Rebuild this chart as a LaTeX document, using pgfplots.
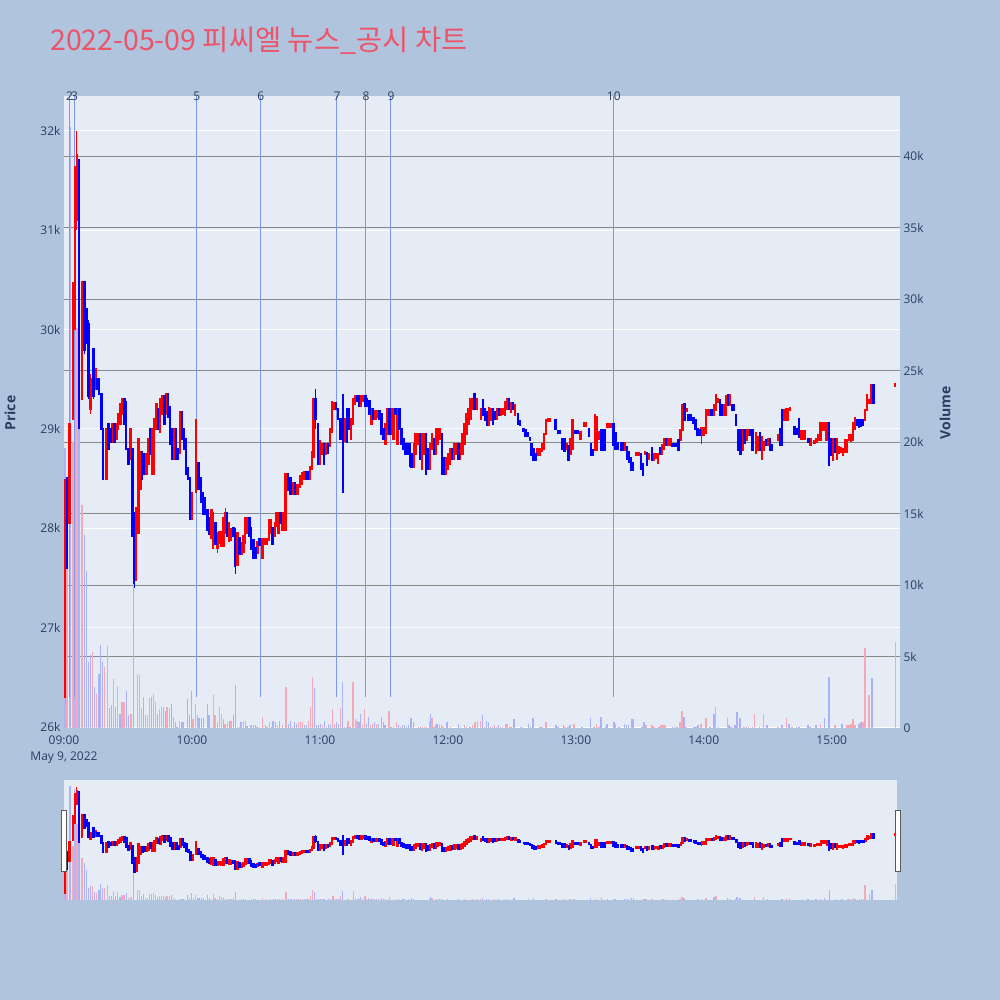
\documentclass[border=0pt]{standalone}
\usepackage{fontspec}
\setmainfont{Open Sans}
\newfontfamily\kr{Noto Sans CJK KR}
\usepackage{pgfplots}
\usepackage{pgfplotstable}
\pgfplotsset{compat=1.18}
\definecolor{pagebg}{HTML}{B0C4DE}
\definecolor{plotbg}{HTML}{E5ECF6}
\definecolor{gridgray}{RGB}{136,136,136}
\definecolor{tickc}{RGB}{42,63,95}
\definecolor{titlec}{RGB}{236,84,106}
\definecolor{newsc}{RGB}{125,150,240}
\definecolor{volblue}{RGB}{170,178,248}
\definecolor{volred}{RGB}{244,170,182}
\definecolor{cred}{RGB}{255,0,0}
\definecolor{cblue}{RGB}{0,0,255}

\pgfplotstableread{
t o c h l
0.5 26.3 28.45 28.5 26.3
2.5 28.05 29.05 29.05 28.05
4.2 29.4 30.35 30.48 29.09
5.1 30.3 31.6 31.65 30.0
6.0 31.1 31.75 32.0 31.0
8.5 29.3 30.48 30.48 29.3
12.4 29.2 29.5 29.55 29.15
14.7 29.4 29.6 29.6 29.4
19.84 28.5 29.0 29.0 28.5
22.65 28.87 29.05 29.05 28.87
24.53 28.9 29.05 29.05 28.9
25.46 29.0 29.15 29.15 29.0
26.4 29.05 29.25 29.25 29.05
27.34 29.15 29.3 29.3 29.15
31.09 28.7 29.0 29.0 28.7
33.9 27.48 28.2 28.2 27.48
34.84 27.95 28.9 28.9 27.95
35.78 28.4 28.77 28.77 28.4
38.59 28.55 28.75 28.75 28.55
39.53 28.65 28.9 28.9 28.65
41.4 28.55 29.0 29.0 28.55
42.34 28.55 29.1 29.1 28.55
43.28 29.0 29.25 29.25 29.0
45.15 28.97 29.3 29.3 28.97
46.09 29.15 29.33 29.33 29.15
47.96 29.15 29.35 29.35 29.15
51.71 28.7 29.0 29.0 28.7
54.53 28.76 29.17 29.17 28.76
60.15 28.1 28.35 28.35 28.1
61.9 28.4 28.65 29.1 28.35
69.1 27.9 28.18 28.18 27.9
70.0 27.8 28.15 28.15 27.8
71.9 27.8 27.95 27.95 27.75
72.8 27.85 27.96 27.96 27.85
73.7 27.82 27.96 27.96 27.82
74.7 27.82 28.1 28.1 27.82
75.6 27.95 28.15 28.2 27.95
77.5 27.87 28.05 28.05 27.87
78.4 27.88 27.99 27.99 27.88
81.3 27.63 27.95 27.95 27.63
83.2 27.74 27.85 27.85 27.74
84.1 27.76 27.92 27.92 27.76
85.0 27.85 28.1 28.1 27.85
86.0 27.95 28.1 28.1 27.95
90.7 27.75 27.86 27.86 27.75
93.1 27.7 27.89 27.89 27.7
94.1 27.84 27.89 27.89 27.84
95.0 27.84 27.89 27.89 27.84
96.0 27.88 28.08 28.08 27.88
96.9 27.95 28.08 28.08 27.95
98.8 27.92 28.05 28.05 27.92
99.7 28.02 28.15 28.15 28.02
100.6 27.95 28.15 28.15 27.95
102.5 27.98 28.15 28.15 27.98
103.8 27.98 28.54 28.54 27.98
107.2 28.35 28.45 28.45 28.35
109.5 28.35 28.43 28.43 28.35
110.6 28.42 28.52 28.52 28.42
111.5 28.45 28.55 28.55 28.45
112.5 28.5 28.56 28.56 28.5
115.3 28.5 28.61 28.61 28.5
116.2 28.6 28.77 28.77 28.6
117.0 28.72 29.3 29.3 28.72
120.0 28.65 28.88 28.88 28.65
121.0 28.75 28.85 28.85 28.75
122.9 28.75 28.85 28.85 28.75
124.7 28.83 29.0 29.0 28.83
125.7 28.97 29.27 29.27 28.97
126.6 29.2 29.26 29.26 29.2
131.8 28.88 29.1 29.1 28.88
134.6 28.9 29.1 29.1 28.9
135.6 29.05 29.3 29.3 29.05
136.5 29.25 29.33 29.33 29.25
139.4 29.23 29.33 29.33 29.23
140.3 29.28 29.33 29.33 29.28
144.1 29.05 29.2 29.2 29.05
146.0 29.1 29.18 29.18 29.1
146.9 29.12 29.18 29.18 29.12
150.7 28.85 29.05 29.05 28.85
151.7 28.95 29.2 29.2 28.95
153.6 28.95 29.2 29.2 28.95
154.5 28.9 29.2 29.2 28.9
156.4 28.85 29.2 29.2 28.85
164.0 28.62 28.85 28.85 28.62
164.9 28.75 28.95 28.95 28.75
165.9 28.85 28.95 28.95 28.85
167.8 28.6 28.95 28.95 28.6
168.7 28.75 28.95 28.95 28.75
171.6 28.6 28.85 28.85 28.6
172.5 28.8 28.95 28.95 28.8
174.4 28.75 29.0 29.0 28.75
175.4 28.85 29.0 29.0 28.85
176.3 28.9 29.0 29.0 28.9
179.2 28.55 28.7 28.7 28.55
180.1 28.6 28.75 28.75 28.6
181.1 28.65 28.8 28.8 28.65
183.0 28.7 28.85 28.85 28.7
183.9 28.75 28.85 28.85 28.75
185.8 28.7 28.85 28.85 28.7
186.8 28.75 28.95 28.95 28.75
187.7 28.85 29.05 29.05 28.85
188.7 28.95 29.15 29.15 28.95
189.6 29.05 29.2 29.2 29.05
190.6 29.1 29.3 29.3 29.1
191.5 29.2 29.3 29.3 29.2
193.4 29.2 29.3 29.3 29.2
195.5 29.1 29.2 29.2 29.1
199.3 29.04 29.21 29.21 29.04
200.2 29.09 29.2 29.2 29.09
203.0 29.1 29.2 29.2 29.1
204.9 29.14 29.2 29.2 29.14
205.9 29.15 29.2 29.2 29.15
206.8 29.14 29.27 29.27 29.14
207.8 29.2 29.3 29.3 29.2
209.7 29.17 29.26 29.26 29.17
211.6 29.14 29.24 29.24 29.14
222.1 28.74 28.8 28.8 28.74
223.1 28.74 28.8 28.8 28.74
224.0 28.78 28.85 28.85 28.78
225.0 28.8 28.95 28.95 28.8
225.9 28.95 29.09 29.09 28.95
226.9 29.08 29.1 29.1 29.08
227.8 29.08 29.1 29.1 29.08
235.6 28.8 28.85 28.85 28.8
237.5 28.75 28.9 28.9 28.75
238.4 28.8 29.09 29.09 28.8
242.1 28.9 28.97 28.97 28.9
243.7 29.03 29.06 29.06 29.03
244.6 29.03 29.06 29.06 29.03
248.9 28.79 29.14 29.14 28.79
249.8 28.79 29.12 29.12 28.79
250.8 28.9 28.97 28.97 28.9
254.6 29.02 29.05 29.05 29.02
255.5 29.02 29.05 29.05 29.02
256.5 29.02 29.05 29.05 29.02
263.0 28.79 28.86 28.86 28.79
268.4 28.74 28.76 28.76 28.74
269.5 28.74 28.76 28.76 28.74
272.4 28.75 28.77 28.77 28.75
274.3 28.7 28.75 28.75 28.7
276.7 28.69 28.75 28.75 28.69
277.6 28.71 28.75 28.75 28.71
278.6 28.66 28.75 28.75 28.66
280.5 28.75 28.84 28.84 28.75
281.4 28.8 28.9 28.9 28.8
283.4 28.84 28.9 28.9 28.84
284.3 28.84 28.9 28.9 28.84
289.1 28.89 28.99 28.99 28.89
290.0 28.99 29.24 29.24 28.99
291.9 29.18 29.2 29.2 29.18
299.0 28.95 29.01 29.01 28.85
299.9 28.94 29.01 29.01 28.94
300.9 28.96 29.19 29.19 28.96
301.8 29.14 29.19 29.19 29.14
302.8 29.14 29.19 29.19 29.14
304.7 29.14 29.24 29.24 29.14
305.6 29.19 29.34 29.34 29.19
306.6 29.27 29.3 29.3 29.27
309.4 29.14 29.24 29.24 29.14
310.4 29.14 29.33 29.33 29.14
312.3 29.24 29.34 29.34 29.24
318.1 28.79 28.99 28.99 28.79
320.0 28.89 28.99 28.99 28.89
321.0 28.94 28.99 28.99 28.94
324.4 28.76 28.96 28.96 28.76
325.3 28.79 28.92 28.92 28.79
327.2 28.7 28.92 28.92 28.7
328.2 28.79 28.87 28.87 28.79
330.1 28.84 28.9 28.9 28.84
334.7 28.89 28.94 28.94 28.89
337.6 29.09 29.19 29.19 29.09
338.5 29.09 29.2 29.2 29.09
339.5 29.09 29.2 29.2 29.09
340.5 29.19 29.21 29.21 29.19
345.6 28.9 28.98 28.98 28.9
346.6 28.9 28.98 28.98 28.9
347.5 28.9 28.98 28.98 28.9
350.0 28.84 28.9 28.9 28.84
351.9 28.86 28.88 28.88 28.86
352.9 28.87 28.9 28.9 28.87
353.8 28.89 28.94 28.94 28.89
354.8 28.89 29.06 29.06 28.89
355.7 28.99 29.06 29.06 28.99
356.7 28.99 29.06 29.06 28.99
357.6 28.89 29.06 29.06 28.89
360.5 28.69 28.9 28.9 28.69
362.4 28.7 28.9 28.9 28.7
363.3 28.76 28.82 28.82 28.76
364.3 28.77 28.81 28.81 28.77
365.2 28.74 28.8 28.8 28.74
366.2 28.77 28.89 28.89 28.77
367.1 28.77 28.89 28.89 28.77
368.1 28.89 28.94 28.94 28.89
369.0 28.88 28.94 28.94 28.88
370.0 28.89 29.06 29.06 28.89
370.9 29.0 29.11 29.11 29.0
375.7 29.09 29.19 29.19 29.09
376.6 29.19 29.34 29.34 29.19
377.6 29.26 29.29 29.29 29.26
378.5 29.26 29.44 29.44 29.26
389.6 29.43 29.45 29.45 29.43
}\upcandles

\pgfplotstableread{
t o c h l
1.4 28.5 27.6 28.5 27.6
7.0 31.7 29.6 31.7 29.0
9.6 30.48 29.8 30.48 29.75
10.5 30.2 29.9 30.2 29.85
11.4 30.05 29.33 30.1 29.3
13.75 29.8 29.33 29.8 29.3
15.6 29.5 29.4 29.5 29.4
16.5 29.5 29.35 29.5 29.35
17.5 29.35 29.0 29.35 29.0
18.4 29.0 28.5 29.0 28.5
20.78 29.05 28.8 29.05 28.8
21.71 29.0 28.87 29.0 28.87
23.59 29.05 28.87 29.05 28.87
28.28 29.3 29.05 29.3 29.05
29.21 29.27 28.8 29.27 28.8
30.15 28.8 28.65 28.8 28.65
32.03 28.8 27.92 28.8 27.92
32.96 28.15 27.45 28.15 27.4
36.71 28.77 28.5 28.77 28.5
37.65 28.75 28.55 28.75 28.55
40.46 29.0 28.75 29.0 28.75
44.21 29.2 29.0 29.2 29.0
47.03 29.33 29.05 29.33 29.05
48.9 29.35 29.12 29.35 29.12
49.84 29.22 28.85 29.22 28.85
50.78 29.0 28.7 29.0 28.7
52.65 29.0 28.7 29.0 28.7
53.59 28.8 28.7 28.8 28.7
55.46 29.17 28.9 29.17 28.9
56.4 29.0 28.8 29.0 28.8
57.34 28.9 28.55 28.9 28.55
58.28 28.6 28.5 28.6 28.5
59.21 28.5 28.1 28.5 28.1
63.1 28.65 28.4 28.65 28.4
64.1 28.5 28.27 28.5 28.27
65.3 28.35 28.15 28.35 28.15
66.2 28.3 28.15 28.3 28.15
67.2 28.18 27.98 28.18 27.98
68.1 28.1 27.94 28.1 27.94
71.0 28.05 27.84 28.05 27.84
76.5 28.15 27.92 28.15 27.92
79.4 28.0 27.92 28.0 27.92
80.3 27.99 27.62 27.99 27.54
82.2 27.9 27.74 27.9 27.74
86.9 28.1 27.92 28.1 27.92
87.8 28.0 27.79 28.0 27.79
88.8 27.88 27.7 27.88 27.7
89.7 27.8 27.7 27.8 27.7
91.6 27.89 27.83 27.89 27.83
97.8 28.0 27.84 28.0 27.84
101.6 28.15 28.05 28.15 28.05
105.0 28.54 28.39 28.54 28.39
106.2 28.5 28.35 28.5 28.35
108.4 28.45 28.35 28.45 28.35
113.4 28.56 28.5 28.56 28.5
114.3 28.56 28.5 28.56 28.5
117.9 29.3 29.1 29.4 29.0
119.1 29.05 28.65 29.05 28.65
121.9 28.85 28.65 28.85 28.65
123.8 28.85 28.76 28.85 28.76
127.6 29.26 29.2 29.26 29.2
128.5 29.2 29.1 29.2 29.1
129.6 29.1 28.9 29.1 28.9
130.8 29.33 28.89 29.35 28.35
132.7 29.2 28.87 29.2 28.87
133.7 29.2 29.0 29.2 29.0
137.5 29.33 29.28 29.33 29.28
138.4 29.33 29.23 29.33 29.23
141.3 29.33 29.23 29.33 29.23
142.2 29.3 29.23 29.3 29.23
143.2 29.28 29.15 29.28 29.15
145.0 29.2 29.1 29.2 29.1
147.9 29.18 29.1 29.18 29.1
148.8 29.15 28.95 29.15 28.95
149.8 29.0 28.9 29.0 28.9
152.6 29.2 28.95 29.2 28.95
155.4 29.2 29.15 29.2 29.15
157.3 29.2 29.0 29.2 29.0
158.3 29.0 28.85 29.0 28.85
159.2 28.9 28.8 28.9 28.8
160.2 28.85 28.75 28.85 28.75
161.1 28.85 28.75 28.85 28.75
162.1 28.85 28.63 28.85 28.63
163.0 28.75 28.62 28.75 28.62
166.8 28.95 28.7 28.95 28.7
169.7 28.95 28.55 28.95 28.55
170.6 28.8 28.6 28.8 28.6
173.5 28.9 28.75 28.9 28.75
177.3 28.95 28.55 28.95 28.55
178.2 28.7 28.55 28.7 28.55
182.0 28.8 28.7 28.8 28.7
184.9 28.85 28.7 28.85 28.7
192.5 29.35 29.2 29.35 29.2
196.4 29.29 29.14 29.3 29.14
197.4 29.2 29.09 29.2 29.09
198.3 29.17 29.04 29.17 29.04
201.2 29.2 29.05 29.2 29.05
202.1 29.17 29.1 29.17 29.1
204.0 29.2 29.14 29.2 29.14
208.7 29.3 29.2 29.3 29.2
210.6 29.26 29.2 29.26 29.2
213.0 29.15 29.05 29.15 29.05
213.9 29.08 29.04 29.08 29.04
215.5 29.0 28.98 29.0 28.98
216.4 28.99 28.93 28.99 28.93
217.4 28.96 28.93 28.96 28.93
218.4 28.91 28.89 28.91 28.89
219.3 28.85 28.74 28.85 28.74
220.2 28.8 28.69 28.8 28.69
221.2 28.75 28.69 28.75 28.69
230.5 29.09 29.0 29.09 29.0
231.6 28.98 28.96 28.98 28.96
232.5 28.98 28.96 28.98 28.96
233.6 28.9 28.8 28.9 28.8
234.7 28.9 28.78 28.9 28.78
236.6 28.83 28.69 28.83 28.69
239.8 28.98 28.96 28.98 28.96
240.7 28.98 28.96 28.98 28.96
246.1 29.0 28.93 29.0 28.93
247.0 28.85 28.74 28.85 28.74
248.0 28.79 28.74 28.79 28.74
251.7 28.99 28.79 28.99 28.79
252.7 28.99 28.79 28.99 28.79
253.6 28.99 28.79 28.99 28.79
257.6 29.05 28.84 29.05 28.84
258.6 28.96 28.8 28.96 28.8
259.6 28.86 28.8 28.86 28.8
261.1 28.86 28.79 28.86 28.79
262.0 28.86 28.79 28.86 28.79
263.9 28.82 28.7 28.82 28.7
264.9 28.77 28.67 28.77 28.67
265.8 28.7 28.59 28.7 28.59
266.8 28.65 28.59 28.65 28.59
270.5 28.75 28.6 28.75 28.6
271.4 28.64 28.54 28.64 28.54
273.3 28.76 28.64 28.76 28.64
275.8 28.81 28.69 28.81 28.69
279.6 28.81 28.75 28.81 28.75
282.4 28.9 28.84 28.9 28.84
285.3 28.85 28.83 28.85 28.83
286.2 28.85 28.83 28.85 28.83
287.2 28.85 28.83 28.85 28.83
288.1 28.89 28.79 28.89 28.79
291.0 29.25 29.09 29.25 29.09
292.9 29.14 29.09 29.14 29.09
293.8 29.14 29.09 29.14 29.09
295.2 29.11 29.06 29.11 29.06
296.1 29.09 29.0 29.09 29.0
297.1 29.0 28.94 29.0 28.94
298.0 28.99 28.94 28.99 28.94
303.7 29.19 29.14 29.19 29.14
307.5 29.29 29.14 29.29 29.14
308.5 29.24 29.14 29.24 29.14
311.3 29.34 29.24 29.34 29.24
313.2 29.24 29.19 29.24 29.19
314.2 29.24 29.19 29.24 29.19
315.2 29.14 29.04 29.14 29.04
316.1 28.99 28.79 28.99 28.79
317.2 28.99 28.75 28.99 28.75
319.1 28.99 28.86 28.99 28.86
321.9 28.99 28.94 28.99 28.94
322.9 28.99 28.79 28.99 28.79
326.3 28.96 28.79 28.96 28.79
329.1 28.89 28.84 28.89 28.84
331.0 28.9 28.79 28.9 28.79
332.0 28.84 28.79 28.84 28.79
335.6 29.0 28.84 29.0 28.84
336.6 29.19 28.84 29.19 28.84
342.5 29.02 28.95 29.02 28.95
343.4 29.0 28.95 29.0 28.95
344.7 29.1 28.92 29.1 28.92
349.1 28.9 28.87 28.9 28.87
358.6 29.06 28.64 29.06 28.64
359.5 28.9 28.74 28.9 28.74
361.4 28.9 28.77 28.9 28.77
371.9 29.09 29.04 29.09 29.04
372.8 29.09 29.02 29.09 29.02
373.8 29.09 29.03 29.09 29.03
374.7 29.09 29.04 29.09 29.04
379.5 29.44 29.26 29.44 29.26
}\downcandles

\pgfplotstableread{
t v
1.4 12.2
2.5 10
4.2 20
5.1 28
6.0 28
8.5 15.6
13.4 5.3
15.3 2.4
19.1 4.3
20.3 5.7
23.1 3.4
25.0 2.9
27.2 1.8
28.1 1.8
31.3 1.0
34.4 3.8
35.3 3.7
36.3 1.4
38.1 0.9
39.1 0.9
40.0 2.1
41.9 2.4
42.8 1.8
44.7 1.3
45.6 1.5
48.4 1.5
49.4 1.4
51.3 0.8
54.1 0.5
60.6 0.6
61.6 1.7
69.1 0.1
70.0 2.3
70.9 0.9
71.9 0.4
72.8 1.5
73.8 1.0
75.6 0.3
76.6 0.4
78.4 0.5
81.3 0.1
82.2 0.1
84.1 0.5
85.0 0.5
90.6 0.1
91.6 0.1
93.1 0.8
95.3 0.1
96.3 0.4
100.0 0.2
102.5 0.2
104.1 2.9
107.2 0.1
110.0 0.4
110.9 0.4
111.9 0.4
114.7 0.5
115.6 1.5
116.6 3.6
121.3 0.2
126.0 1.3
126.9 0.3
129.7 1.4
132.5 0.1
133.1 0.5
135.6 3.2
136.6 0.6
137.5 0.5
140.0 0.2
141.0 1.3
143.8 0.2
144.7 0.3
146.6 0.3
152.5 1.2
153.4 0.1
155.9 0.4
157.8 0.1
166.3 0.1
167.2 0.1
168.1 0.1
169.1 0.1
170.0 0.1
171.3 0.5
172.5 0.7
173.4 0.1
174.1 0.2
177.8 0.1
181.3 0.1
187.8 0.2
190.3 0.1
191.6 0.2
192.8 0.4
193.8 0.5
195.3 0.5
197.2 0.1
200.0 0.1
201.9 0.2
202.8 0.1
205.6 0.1
206.9 0.3
207.8 0.3
209.7 0.1
223.1 0.1
225.9 0.4
235.0 0.1
236.3 0.1
239.1 0.3
248.4 0.1
249.7 0.3
250.9 0.1
253.8 0.1
258.6 0.3
272.8 0.2
275.6 0.2
276.6 0.1
280.0 0.2
280.9 0.2
281.9 0.2
288.8 0.4
289.7 1.2
291.6 0.1
298.8 0.3
301.0 0.7
305.6 1.5
311.0 0.7
318.8 0.1
321.0 0.1
323.8 1.0
328.0 1.0
334.7 0.1
338.8 0.7
341.3 0.1
354.7 0.3
361.6 0.2
367.2 0.2
368.1 0.2
369.1 0.3
370.0 0.6
370.9 0.2
374.7 0.4
375.6 5.6
377.5 2.3
389.8 6.0
}\volup

\pgfplotstableread{
t v
0.5 19.6
2.9 42
5.0 41
7.0 21
9.6 13.5
10.5 11
11.6 4.6
12.5 5.1
14.4 2.9
16.3 3.8
17.2 5.8
18.1 4.6
21.3 1.4
22.2 1.6
24.1 1.5
26.3 1.0
29.4 2.6
30.3 0.9
32.5 10.3
37.2 2.2
41.0 2.2
43.8 1.0
46.6 1.5
47.5 1.2
50.3 1.7
52.2 0.4
53.1 0.1
55.0 0.4
55.9 0.4
57.8 2.0
58.8 0.9
59.7 2.6
62.5 0.9
63.4 0.7
64.4 0.7
65.3 0.7
67.2 1.7
68.1 0.9
74.7 0.6
77.5 0.5
79.4 0.9
80.3 3.0
83.1 0.4
85.9 0.15
87.8 0.2
88.8 0.2
89.7 0.2
94.4 0.2
97.2 0.1
98.1 0.5
99.1 0.4
101.0 0.5
105.3 0.3
106.3 0.5
108.1 0.4
109.1 0.3
112.8 0.2
113.8 0.2
117.5 2.8
118.4 0.2
119.4 0.2
120.3 0.3
122.2 0.5
123.1 0.1
124.1 0.3
125.0 0.2
127.8 0.4
128.8 0.3
130.6 3.2
131.6 0.1
134.1 0.1
138.4 0.4
139.1 1.0
141.9 0.3
142.8 0.8
145.6 0.4
147.5 0.3
148.8 0.8
149.7 0.4
150.6 0.2
154.4 0.1
156.9 0.2
158.8 0.2
159.7 0.2
160.6 0.1
161.6 0.2
162.8 0.7
163.8 0.4
171.9 1.0
175.0 0.3
176.0 0.2
176.9 0.2
179.7 0.4
185.0 0.3
185.9 0.1
188.8 0.1
196.25 0.9
198.1 0.5
199.1 0.4
201.0 0.1
203.8 0.2
204.7 0.1
208.8 0.1
210.9 0.6
214.1 0.1
215.0 0.1
217.8 0.3
218.8 0.1
220.0 0.7
224.1 0.1
230.6 0.2
231.6 0.1
234.1 0.2
237.2 0.2
242.8 0.1
246.9 0.7
251.9 0.8
254.7 0.3
257.8 0.4
260.3 0.1
262.8 0.3
263.8 0.2
264.7 0.2
266.0 0.6
266.9 0.6
271.0 0.1
271.9 0.4
279.1 0.1
285.3 0.1
286.3 0.1
287.5 0.1
290.6 0.8
295.3 0.1
296.3 0.1
297.2 0.2
302.8 0.1
304.7 1.0
306.9 0.1
311.9 0.2
312.8 0.1
314.7 0.2
315.6 1.1
316.9 0.7
320.0 0.1
322.8 0.1
326.0 0.1
329.7 0.2
336.6 0.2
340.0 0.3
343.4 0.1
344.7 0.1
348.8 0.2
349.7 0.1
352.5 0.2
356.6 0.7
358.8 3.6
364.7 0.3
372.8 0.3
373.8 0.4
378.8 3.5
}\voldown

\pgfplotstableread{
t y
2.6 26.3
4.9 26.3
62.3 26.3
92.3 26.3
128.0 26.3
141.6 26.3
153.3 26.3
257.8 26.3
}\news

\begin{document}
\begin{tikzpicture}
\useasboundingbox (0,0) rectangle (1000bp,1000bp);
\fill[pagebg] (0,0) rectangle (1000bp,1000bp);

\node[anchor=base west, text=titlec, font=\kr\fontsize{28.5bp}{31bp}\selectfont, inner sep=0pt] at (50bp,949bp) {2022-05-09 피씨엘 뉴스\_공시 차트};

% ---------- volume (right) axis: background, grey grid, right ticks
\begin{axis}[
  at={(64bp,272bp)}, anchor=south west, scale only axis,
  width=836bp, height=632bp,
  xmin=0, xmax=392, ymin=0, ymax=44.2,
  axis x line=none, axis y line*=right,
  axis line style={draw=none}, major tick length=0pt,
  axis background/.style={fill=plotbg},
  ytick={0,5,10,15,20,25,30,35,40},
  yticklabels={0,5k,10k,15k,20k,25k,30k,35k,40k},
  ymajorgrids, grid style={gridgray, line width=1bp},
  yticklabel style={font=\fontsize{12bp}{14bp}\selectfont, text=tickc, anchor=west, xshift=0bp},
]
\addplot[draw=none] coordinates {(0,0) (392,44.2)};
\end{axis}

% ---------- price (left) axis with all data
\begin{axis}[
  at={(64bp,272bp)}, anchor=south west, scale only axis,
  width=836bp, height=632bp,
  xmin=0, xmax=392, ymin=25.99, ymax=32.35,
  axis x line*=bottom, axis y line*=left,
  axis line style={draw=none}, major tick length=0pt,
  xtick={0,60,120,180,240,300,360},
  xticklabels={{09:00\\May 9, 2022},10:00,11:00,12:00,13:00,14:00,15:00},
  xticklabel style={font=\fontsize{12bp}{16bp}\selectfont, text=tickc, align=center, anchor=north, yshift=-4bp},
  ytick={26,27,28,29,30,31,32},
  yticklabels={26k,27k,28k,29k,30k,31k,32k},
  yticklabel style={font=\fontsize{12bp}{14bp}\selectfont, text=tickc, anchor=east},
  ymajorgrids, grid style={white, line width=1bp},
  clip=true,
]
% volume bars (scaled into price units)
\addplot[volred, line width=1.5bp, no markers, quiver={u=0, v=\thisrow{v}*0.14389}] table[x=t, y expr=25.99] {\volup};
\addplot[volblue, line width=1.5bp, no markers, quiver={u=0, v=\thisrow{v}*0.14389}] table[x=t, y expr=25.99] {\voldown};
% news lines
\addplot[newsc, line width=1bp, no markers, quiver={u=0, v=6.05}] table[x=t, y=y] {\news};
% wicks
\addplot[cred, line width=1.3bp, no markers, quiver={u=0, v=\thisrow{h}-\thisrow{l}}] table[x=t, y=l] {\upcandles};
\addplot[cblue, line width=1.3bp, no markers, quiver={u=0, v=\thisrow{h}-\thisrow{l}}] table[x=t, y=l] {\downcandles};
% bodies
\addplot[cred, line width=2.4bp, line cap=rect, no markers, quiver={u=0, v=\thisrow{c}-\thisrow{o}}] table[x=t, y=o] {\upcandles};
\addplot[cblue, line width=2.4bp, line cap=rect, no markers, quiver={u=0, v=\thisrow{c}-\thisrow{o}}] table[x=t, y=o] {\downcandles};
\end{axis}

% news labels
\begin{scope}[font=\fontsize{12bp}{14bp}\selectfont, text=tickc]
\node at (64bp+2.6*2.1327bp, 904bp) {2};
\node at (64bp+4.9*2.1327bp, 904bp) {3};
\node at (64bp+62.3*2.1327bp, 904bp) {5};
\node at (64bp+92.3*2.1327bp, 904bp) {6};
\node at (64bp+128.0*2.1327bp, 904bp) {7};
\node at (64bp+141.6*2.1327bp, 904bp) {8};
\node at (64bp+153.3*2.1327bp, 904bp) {9};
\node at (64bp+257.8*2.1327bp, 904bp) {10};
\end{scope}

% axis titles
\node[rotate=90, text=tickc, font=\bfseries\fontsize{14bp}{16bp}\selectfont] at (10bp,587bp) {Price};
\node[rotate=90, text=tickc, font=\bfseries\fontsize{14bp}{16bp}\selectfont] at (945bp,587bp) {Volume};

% ---------- range slider
\begin{axis}[
  at={(64bp,100bp)}, anchor=south west, scale only axis,
  width=833bp, height=120bp,
  xmin=0, xmax=390.5, ymin=25.94, ymax=32.36,
  axis lines=none,
  axis background/.style={fill=plotbg},
  clip=true,
]
\addplot[volred, line width=1.5bp, no markers, quiver={u=0, v=\thisrow{v}*0.14525}] table[x=t, y expr=25.94] {\volup};
\addplot[volblue, line width=1.5bp, no markers, quiver={u=0, v=\thisrow{v}*0.14525}] table[x=t, y expr=25.94] {\voldown};
\addplot[cred, line width=1.3bp, no markers, quiver={u=0, v=\thisrow{h}-\thisrow{l}}] table[x=t, y=l] {\upcandles};
\addplot[cblue, line width=1.3bp, no markers, quiver={u=0, v=\thisrow{h}-\thisrow{l}}] table[x=t, y=l] {\downcandles};
\addplot[cred, line width=2.4bp, line cap=rect, no markers, quiver={u=0, v=\thisrow{c}-\thisrow{o}}] table[x=t, y=o] {\upcandles};
\addplot[cblue, line width=2.4bp, line cap=rect, no markers, quiver={u=0, v=\thisrow{c}-\thisrow{o}}] table[x=t, y=o] {\downcandles};
\end{axis}
\draw[fill=white, draw=black!65, line width=0.8bp] (61bp,129bp) rectangle (66bp,190bp);
\draw[fill=white, draw=black!65, line width=0.8bp] (895bp,129bp) rectangle (900bp,190bp);
\end{tikzpicture}
\end{document}
